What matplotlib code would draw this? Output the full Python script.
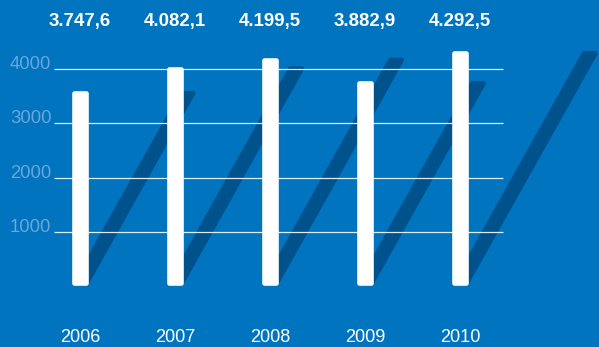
import matplotlib.pyplot as plt
from matplotlib.patches import Polygon
from matplotlib.transforms import blended_transform_factory

years = ["2006", "2007", "2008", "2009", "2010"]
values = [3747.6, 4082.1, 4199.5, 3882.9, 4292.5]
value_labels = ["3.747,6", "4.082,1", "4.199,5", "3.882,9", "4.292,5"]
grid_ticks = [1000, 2000, 3000, 4000]

BG = "#0074BE"
SHADOW = "#00528D"
TICK_COLOR = "#6AA6DA"

W, H, DPI = 599, 347, 100
X0, DX = 80, 95                      # pixel centre of first bar, bar spacing
GRID_ZERO, GRID_SCALE = 286.5, 0.0545  # grid axis: pixel of 0, px per unit
BAR_ZERO, BAR_SCALE = 366.0, 0.07341   # bar axis: pixel of 0, px per unit
BAR_BASE = 1103                        # bars start here (bar axis units)
BAR_W = 16.6 / DX
SLANT = 0.56                           # shadow: px right per px up
RADIUS = 2.3                           # corner rounding, px

plt.rcParams["font.family"] = ["Liberation Sans", "DejaVu Sans"]

fig = plt.figure(figsize=(W / DPI, H / DPI), dpi=DPI, facecolor=BG)
ax = fig.add_axes([0, 0, 1, 1])
ax2 = ax.twinx()
ax.set_facecolor(BG)
ax2.patch.set_visible(False)
for a in (ax, ax2):
    for s in a.spines.values():
        s.set_visible(False)
    a.set_xticks([])
    a.set_yticks([])

ax.set_xlim(-X0 / DX, (W - X0) / DX)
ax.set_ylim((GRID_ZERO - H) / GRID_SCALE, GRID_ZERO / GRID_SCALE)
ax2.set_ylim((BAR_ZERO - H) / BAR_SCALE, BAR_ZERO / BAR_SCALE)

lw = 2 * RADIUS * 72 / DPI


def rounded(pts, color, z):
    p = Polygon(pts, closed=True, facecolor=color, edgecolor=color,
                linewidth=lw, joinstyle="round", zorder=z,
                transform=ax2.transData)
    ax2.add_patch(p)


k = SLANT * BAR_SCALE / DX
rx = RADIUS / DX
rxs = RADIUS / 0.872 / DX
ry = RADIUS / BAR_SCALE
for i, v in enumerate(values):
    y0, y1 = BAR_BASE + ry, v - ry
    # slanted shadow
    s0, s1 = k * (y0 - BAR_BASE), k * (y1 - BAR_BASE)
    rounded([(i - BAR_W / 2 + rxs + s0, y0), (i + BAR_W / 2 - rxs + s0, y0),
             (i + BAR_W / 2 - rxs + s1, y1), (i - BAR_W / 2 + rxs + s1, y1)],
            SHADOW, 1)
    # white bar
    rounded([(i - BAR_W / 2 + rx, y0), (i + BAR_W / 2 - rx, y0),
             (i + BAR_W / 2 - rx, y1), (i - BAR_W / 2 + rx, y1)],
            "white", 3)

# gridlines (grid axis scale), above shadows, under bars
gx0, gx1 = (54.3 - X0) / DX, (502.7 - X0) / DX
for t in grid_ticks:
    ax2.plot([gx0, gx1], [t, t], color="white", alpha=0.88, lw=0.9,
             transform=ax.transData, zorder=2, solid_capstyle="butt")

ytrans = blended_transform_factory(ax.transAxes, ax.transData)
for t in grid_ticks:
    ax.text(10 / W, t, str(t), transform=ytrans, ha="left", va="baseline",
            fontsize=13.3, color=TICK_COLOR)

xtrans = blended_transform_factory(ax.transData, ax.transAxes)
for i, (yr, lab) in enumerate(zip(years, value_labels)):
    ax.text(i, 1 - 341.7 / H, yr, transform=xtrans, ha="center",
            va="baseline", fontsize=13.1, color="white")
    ax.text(i, 1 - 26 / H, lab, transform=xtrans, ha="center",
            va="baseline", fontsize=13.4, fontweight="bold", color="white")

fig.savefig("out.png", dpi=DPI, facecolor=BG)
